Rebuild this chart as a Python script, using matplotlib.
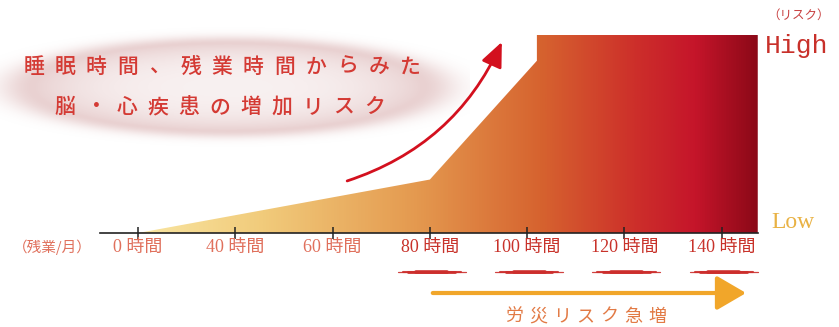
import numpy as np
import matplotlib
matplotlib.use("Agg")
import matplotlib.pyplot as plt
from matplotlib.colors import LinearSegmentedColormap
from matplotlib.patches import FancyArrowPatch

plt.rcParams['font.family'] = ['Noto Sans CJK JP', 'DejaVu Sans']

# ---- data -------------------------------------------------------------
overtime_hours = [0, 40, 60, 80, 100, 120, 140]          # monthly overtime categories
tick_suffix = "時間"
highlight_from = 80                                       # hours from which risk jumps

# risk profile (0 = low, 1 = high) along the category axis
risk_x = [0.0, 3.0, 4.1, 4.1, 6.37]
risk_y = [0.0, 0.27, 0.87, 1.0, 1.0]

title_lines = ["睡眠時間、残業時間からみた", "脳・心疾患の増加リスク"]
unit_label = "（残業/月）"
surge_label = "労災リスク急増"
risk_axis_label = "（リスク）"
high_label, low_label = "High", "Low"

# ---- figure -------------------------------------------------------------
W, H = 839, 327
fig = plt.figure(figsize=(W / 100, H / 100), dpi=100)
ax = fig.add_axes([0, 0, 1, 1])
ax.set_xlim(-1.418, 7.205)
ax.set_ylim(-0.4747, 1.1768)
ax.patch.set_alpha(0)

# gradient-filled risk area
cmap = LinearSegmentedColormap.from_list("risk", [
    (0.00, "#f9e6a2"),
    (0.20, "#f1cb7b"),
    (0.45, "#e4994f"),
    (0.65, "#d6632f"),
    (0.80, "#cd302a"),
    (0.90, "#c5152a"),
    (1.00, "#8c0918"),
])
area = ax.fill_between(risk_x, 0, risk_y, facecolor="none", edgecolor="none")
grad = np.linspace(0, 1, 512)[None, :]
im = ax.imshow(grad, extent=[risk_x[0], risk_x[-1], 0, max(risk_y)],
               aspect="auto", cmap=cmap, origin="lower", zorder=1)
im.set_clip_path(area.get_paths()[0], transform=ax.transData)

# category axis
for s in ("top", "left", "right"):
    ax.spines[s].set_visible(False)
ax.spines["bottom"].set_position(("data", 0))
ax.spines["bottom"].set_bounds(-0.39, risk_x[-1])
ax.spines["bottom"].set_linewidth(1.2)
ax.spines["bottom"].set_color("#222222")
ax.spines["bottom"].set_zorder(3)
ax.set_yticks([])
ax.set_xticks(range(len(overtime_hours)))
ax.set_xticklabels([f"{h} {tick_suffix}" for h in overtime_hours],
                   family=["Liberation Serif", "Noto Sans CJK JP"], fontsize=13)
ax.tick_params(axis="x", direction="inout", length=8, width=1.1,
               color="#222222", pad=0.5)
for lab, h in zip(ax.get_xticklabels(), overtime_hours):
    lab.set_color("#c8322a" if h >= highlight_from else "#e0705c")

# brush underlines under the high-risk categories (tapered by layering)
for i, h in enumerate(overtime_hours):
    if h >= highlight_from:
        for half, lw in ((0.35, 0.9), (0.30, 1.5), (0.24, 2.1), (0.16, 2.7)):
            ax.plot([i + 0.02 - half, i + 0.02 + half], [-0.197, -0.197],
                    color="#cc2e2c", lw=lw, solid_capstyle="round",
                    alpha=0.9, zorder=3)

# "risk surge" arrow
start = overtime_hours.index(highlight_from)
ax.annotate("", xy=(6.25, -0.303), xytext=(start + 0.03, -0.303),
            arrowprops=dict(arrowstyle="-|>,head_length=1.8,head_width=1.05",
                            mutation_scale=10, lw=3, color="#f1a62a",
                            shrinkA=0, shrinkB=0), zorder=3)


def tracked(axis, text, xc, y, pitch, **kw):
    n = len(text)
    x0 = xc - pitch * (n - 1) / 2
    for k, ch in enumerate(text):
        axis.text(x0 + k * pitch, y, ch, ha="center", va="center", **kw)


tracked(ax, surge_label, 4.6, -0.424, 0.245, fontsize=13, color="#e27a45")

# rising arrow
arrow = FancyArrowPatch((2.15, 0.263), (3.74, 0.965),
                        connectionstyle="arc3,rad=0.22",
                        arrowstyle="-|>,head_length=1.5,head_width=0.65",
                        mutation_scale=10, lw=2.0, color="#d3101e",
                        shrinkA=0, shrinkB=0, zorder=4)
ax.add_patch(arrow)

# ---- pixel-space overlay for headings -----------------------------------
ov = fig.add_axes([0, 0, 1, 1], zorder=-1)
ov.axis("off")

# soft glow behind the title
gx = np.linspace(0, 470, 470)
gy = np.linspace(20, 160, 140)
X, Y = np.meshgrid(gx, gy)
r = np.sqrt(((X - 228) / 205) ** 2 + ((Y - 87) / 46) ** 2)
alpha = 0.13 + 0.27 * np.clip(r / 0.95, 0, 1) ** 3
alpha = np.where(r < 0.95, alpha, alpha * np.exp(-((r - 0.95) / 0.17) ** 2))
rgba = np.zeros(X.shape + (4,))
rgba[..., 0] = 200 / 255
rgba[..., 1] = 140 / 255
rgba[..., 2] = 140 / 255
rgba[..., 3] = alpha
ov.imshow(rgba, extent=[0, 470, 160, 20], aspect="auto", interpolation="bilinear")
ov.set_xlim(0, W)
ov.set_ylim(H, 0)

ov2 = fig.add_axes([0, 0, 1, 1], zorder=5)
ov2.axis("off")
ov2.set_xlim(0, W)
ov2.set_ylim(H, 0)
tracked(ov2, title_lines[0], 222, 67, 31.4, fontsize=15, color="#d43a34",
        weight="medium")
tracked(ov2, title_lines[1], 220, 107, 31.0, fontsize=15, color="#d43a34",
        weight="medium")

ov2.text(52, 247, unit_label, ha="center", va="center", fontsize=10.5,
         color="#e0705c")
ov2.text(799, 15, risk_axis_label, ha="center", va="center", fontsize=9,
         color="#c84040")
ov2.text(797, 46, high_label, ha="center", va="center", fontsize=19,
         family="Liberation Mono", color="#c8302a")
ov2.text(793, 222, low_label, ha="center", va="center", fontsize=17,
         family="Liberation Serif", color="#e9b244")

fig.savefig("out.png", dpi=100)
